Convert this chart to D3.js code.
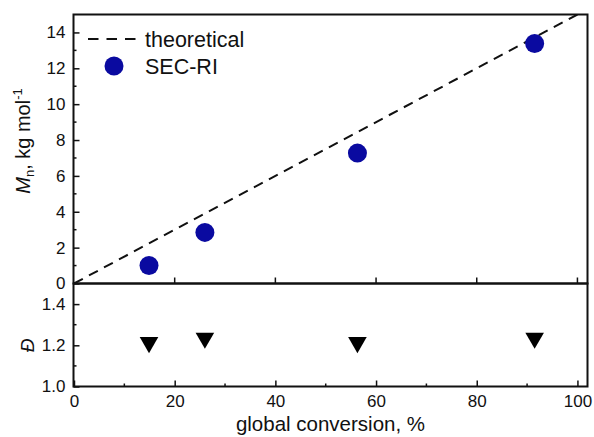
<!DOCTYPE html>
<html>
<head>
<meta charset="utf-8">
<script src="https://cdn.jsdelivr.net/npm/d3@7"></script>
<style>
  html, body { margin: 0; padding: 0; background: #fff; }
  svg { display: block; }
  text { font-family: "Liberation Sans", Arial, sans-serif; fill: #111; }
</style>
</head>
<body>
<script>
// ---- data ----
const conversion = [14.9, 26.0, 56.3, 91.5];      // global conversion, %
const mnSEC = [1.0, 2.85, 7.27, 13.38];            // Mn (SEC-RI), kg/mol
const dispersity = [1.214, 1.235, 1.214, 1.235];   // Đ
const theoConv = [0, 100];
const theoMn = [0, 15];
const xTicks = [0, 20, 40, 60, 80, 100];
const yTopTicks = [0, 2, 4, 6, 8, 10, 12, 14];
const yBotTicks = [1.0, 1.2, 1.4];

const W = 594, H = 437;
const L = 73.5, R = 587.5, T = 14.5, M = 283.5, B = 386.5;

const svg = d3.select("body").append("svg").attr("width", W).attr("height", H);

const x = d3.scaleLinear().domain([0, 102]).range([L + 0.5, R]);
const yTop = d3.scaleLinear().domain([0, 15]).range([M, T]);
const yBot = d3.scaleLinear().domain([1.0, 1.5]).range([B, M]);

const axisStroke = "#111";

svg.append("clipPath").attr("id", "clipTop").append("rect")
  .attr("x", L).attr("y", T).attr("width", R - L).attr("height", M - T);

// theoretical line
const line = d3.line().x((d, i) => x(theoConv[i])).y(d => yTop(d));
svg.append("path").datum(theoMn)
  .attr("d", line).attr("fill", "none").attr("stroke", "#111")
  .attr("stroke-width", 2).attr("stroke-dasharray", "10,7")
  .attr("clip-path", "url(#clipTop)");

// SEC points
svg.append("g").selectAll("circle").data(mnSEC).join("circle")
  .attr("cx", (d, i) => x(conversion[i])).attr("cy", d => yTop(d))
  .attr("r", 9.5).attr("fill", "#0a0aa0");

// dispersity triangles
const tri = d3.symbol().type(d3.symbolTriangle).size(150);
svg.append("g").selectAll("path").data(dispersity).join("path")
  .attr("d", tri)
  .attr("transform", (d, i) => `translate(${x(conversion[i])},${yBot(d)}) rotate(180)`)
  .attr("fill", "#000");

// ---- axes ----
function styleAxis(g) {
  g.selectAll("path.domain").remove();
  g.selectAll("line").attr("stroke", axisStroke).attr("stroke-width", 1.5);
  g.selectAll("text").style("font-size", "17px").attr("fill", "#111");
}

const yTopAxis = svg.append("g").attr("transform", `translate(${L},0)`)
  .call(d3.axisLeft(yTop).tickValues(yTopTicks).tickSize(-6).tickPadding(8).tickFormat(d3.format("d")));
styleAxis(yTopAxis);
svg.append("g").selectAll("line").data([1, 3, 5, 7, 9, 11, 13]).join("line")
  .attr("x1", L).attr("x2", L + 3).attr("y1", d => yTop(d)).attr("y2", d => yTop(d))
  .attr("stroke", axisStroke).attr("stroke-width", 1.5);

svg.append("g").selectAll("line").data([20, 40, 60, 80, 100]).join("line")
  .attr("x1", d => x(d)).attr("x2", d => x(d)).attr("y1", M).attr("y2", M - 6)
  .attr("stroke", axisStroke).attr("stroke-width", 1.5);

const yBotAxis = svg.append("g").attr("transform", `translate(${L},0)`)
  .call(d3.axisLeft(yBot).tickValues(yBotTicks).tickSize(-6).tickPadding(8).tickFormat(d3.format(".1f")));
styleAxis(yBotAxis);
svg.append("g").selectAll("line").data([1.1, 1.3]).join("line")
  .attr("x1", L).attr("x2", L + 3).attr("y1", d => yBot(d)).attr("y2", d => yBot(d))
  .attr("stroke", axisStroke).attr("stroke-width", 1.5);

const xAxis = svg.append("g").attr("transform", `translate(0,${B})`)
  .call(d3.axisBottom(x).tickValues(xTicks).tickSize(-6).tickPadding(5).tickFormat(d3.format("d")));
styleAxis(xAxis);
xAxis.selectAll("text").attr("dy", "0.9em");
svg.append("g").selectAll("line").data([10, 30, 50, 70, 90]).join("line")
  .attr("x1", d => x(d)).attr("x2", d => x(d)).attr("y1", B).attr("y2", B - 3)
  .attr("stroke", axisStroke).attr("stroke-width", 1.5);

// frames
svg.append("rect").attr("x", L).attr("y", T).attr("width", R - L).attr("height", M - T)
  .attr("fill", "none").attr("stroke", axisStroke).attr("stroke-width", 2);
svg.append("rect").attr("x", L).attr("y", M).attr("width", R - L).attr("height", B - M)
  .attr("fill", "none").attr("stroke", axisStroke).attr("stroke-width", 2);

// ---- labels ----
svg.append("text").attr("x", (L + R) / 2).attr("y", 431)
  .attr("text-anchor", "middle").style("font-size", "20.5px")
  .text("global conversion, %");

const yl = svg.append("text")
  .attr("transform", `translate(30,141) rotate(-90)`)
  .attr("text-anchor", "middle").style("font-size", "20px");
yl.append("tspan").style("font-style", "italic").text("M");
yl.append("tspan").attr("dy", 4).style("font-size", "13px").text("n");
yl.append("tspan").attr("dy", -4).text(", kg mol");
yl.append("tspan").attr("dy", -8).style("font-size", "13px").text("-1");

svg.append("text").attr("transform", `translate(34,${yBot(1.2)}) rotate(-90)`)
  .attr("text-anchor", "middle").style("font-size", "19px").style("font-style", "italic")
  .text("Đ");

// ---- legend ----
const lg = svg.append("g");
lg.append("line").attr("x1", 88).attr("x2", 140).attr("y1", 39).attr("y2", 39)
  .attr("stroke", "#111").attr("stroke-width", 2).attr("stroke-dasharray", "10.5,8");
lg.append("text").attr("x", 145).attr("y", 46.5).style("font-size", "21.5px").text("theoretical");
lg.append("circle").attr("cx", 114).attr("cy", 66).attr("r", 9.5).attr("fill", "#0a0aa0");
lg.append("text").attr("x", 145).attr("y", 73.5).style("font-size", "21.5px").text("SEC-RI");
</script>
</body>
</html>
